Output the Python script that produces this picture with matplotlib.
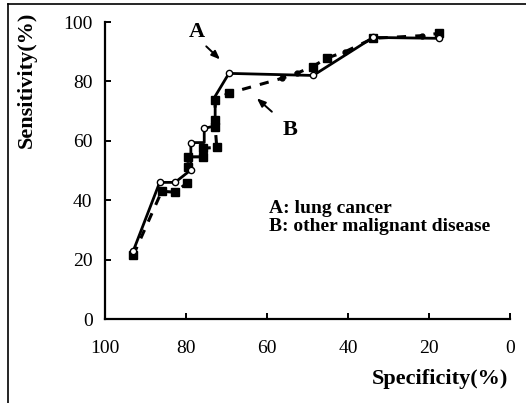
import matplotlib
matplotlib.use("Agg")
import matplotlib.pyplot as plt
from matplotlib.lines import Line2D

# Data
a_spec = [93, 86.5, 82.7, 78.8, 78.8, 75.5, 75.5, 72.8, 72.8, 69.4, 48.6, 33.8, 17.5]
a_sens = [23, 46, 46, 50.2, 59.4, 59.4, 64.2, 65, 75, 82.7, 82, 94.8, 94.5]
a_marker_idx = [0, 1, 2, 3, 4, 6, 9, 10, 11, 12]

b_spec = [93, 86, 82.7, 79.8, 79.5, 79.5, 75.7, 75.7, 72.4, 72.8, 72.8, 72.8, 69.5,
          56.4, 52.7, 48.7, 45.3, 40.7, 33.8, 21.8, 17.5]
b_sens = [21.5, 43, 42.7, 45.7, 51.3, 54.6, 54.6, 57.5, 57.8, 64.7, 67, 73.7, 76,
          81, 82.7, 85, 87.8, 90, 94.5, 95.4, 96.2]
b_square_idx = [0, 1, 2, 3, 4, 5, 6, 7, 8, 9, 10, 11, 12, 15, 16, 18, 20]
b_dot_idx = [13, 14, 17, 19]

x_ticks = [100, 80, 60, 40, 20, 0]
y_ticks = [0, 20, 40, 60, 80, 100]

serif = ["Liberation Serif", "DejaVu Serif"]
plt.rcParams["font.family"] = serif

W, H = 526, 403
fig = plt.figure(figsize=(W / 100, H / 100), dpi=100)
ax = fig.add_axes([105 / W, 1 - 319 / H, 405 / W, 297 / H])

# B: other malignant disease (dashed, filled squares)
ax.plot(b_spec, b_sens, color="black", lw=2.2, ls=(0, (3, 3)), zorder=2)
ax.plot(b_spec, b_sens, ls="none", marker="s", ms=6, color="black",
        markevery=b_square_idx, zorder=3)
ax.plot(b_spec, b_sens, ls="none", marker="o", ms=3.5, color="black",
        markevery=b_dot_idx, zorder=3)

# A: lung cancer (solid, open circles)
ax.plot(a_spec, a_sens, color="black", lw=2.0, zorder=4)
ax.plot(a_spec, a_sens, ls="none", marker="o", ms=4.5, mfc="white", mec="black",
        mew=1.0, markevery=a_marker_idx, zorder=5)

ax.set_xlim(100, 0)
ax.set_ylim(0, 100)
ax.set_xticks(x_ticks)
ax.set_yticks(y_ticks)
ax.set_xticklabels([str(v) for v in x_ticks])
ax.set_yticklabels([str(v) for v in y_ticks])
for s in ["top", "right"]:
    ax.spines[s].set_visible(False)
for s in ["left", "bottom"]:
    ax.spines[s].set_linewidth(1.6)
ax.tick_params(axis="both", direction="in", length=4, width=1.4, labelsize=14)
ax.tick_params(axis="x", pad=15)
ax.tick_params(axis="y", pad=9)
ax.patch.set_alpha(0)

# Annotations
ax.text(77.3, 96.6, "A", fontsize=16, fontweight="bold", ha="center", va="center")
ax.annotate("", xy=(71.6, 87.4), xytext=(75.0, 91.8),
            arrowprops=dict(arrowstyle="-|>,head_length=0.5,head_width=0.2",
                            color="black", lw=1.4, shrinkA=0, shrinkB=0))
ax.text(54.3, 63.6, "B", fontsize=16, fontweight="bold", ha="center", va="center")
ax.annotate("", xy=(62.5, 74.3), xytext=(58.8, 69.8),
            arrowprops=dict(arrowstyle="-|>,head_length=0.5,head_width=0.2",
                            color="black", lw=1.4, shrinkA=0, shrinkB=0))

ax.text(59.5, 37.2, "A: lung cancer", fontsize=14, fontweight="bold",
        ha="left", va="center")
ax.text(59.5, 31.0, "B: other malignant disease", fontsize=14,
        fontweight="bold", ha="left", va="center")

# Axis labels
fig.text(508 / W, 1 - 379 / H, "Specificity(%)", fontsize=16, fontweight="bold",
         ha="right", va="center")
fig.text(27 / W, 1 - 80 / H, "Sensitivity(%)", fontsize=16, fontweight="bold",
         ha="center", va="center", rotation=90)

# Figure frame lines (left and top)
fig.add_artist(Line2D([8 / W, 8 / W], [0, 1 - 4 / H], transform=fig.transFigure,
                      color="black", lw=1.2))
fig.add_artist(Line2D([8 / W, 1], [1 - 4 / H, 1 - 4 / H], transform=fig.transFigure,
                      color="black", lw=1.2))

fig.savefig("out.png", dpi=100)
